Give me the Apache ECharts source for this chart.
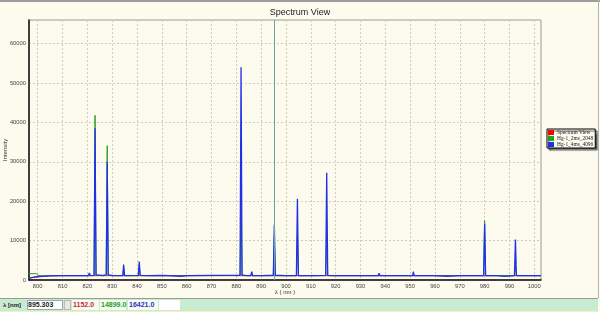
<!DOCTYPE html>
<html>
<head>
<meta charset="utf-8">
<script src="https://cdn.jsdelivr.net/npm/echarts@6/dist/echarts.min.js"></script>
<style>
  body { margin: 0; background: #fdfaee; }
  #wrap { position: relative; width: 600px; height: 312px; overflow: hidden; background: #fdfaee; }
  #chart { position: absolute; left: 0; top: 0; width: 600px; height: 298px; }
  .topline { position: absolute; left: 0; top: 0; width: 600px; height: 2px; background: #9c9c9c; }
  .rightline { position: absolute; left: 598px; top: 0; width: 1px; height: 298px; background: #b4b4b4; }
  #bar { position: absolute; left: 0; top: 298px; width: 598px; height: 12px; background: #c8ecd0;
         border-top: 1px solid #9a9a9a; border-bottom: 1px solid #f4f0b8;
         font-family: "Liberation Sans", Arial, sans-serif; font-size: 7px; font-weight: bold; }
  #bar div { position: absolute; top: 1px; height: 10px; line-height: 10px; }
  .box { background: #f4fcf4; padding-left: 1px; }
</style>
</head>
<body>
<div id="wrap">
  <div id="chart"></div>
  <div class="topline"></div>
  <div class="rightline"></div>
  <div id="bar">
    <div style="left:3px;color:#222;font-size:6px;">λ [nm]</div>
    <div id="wlBox" style="left:27px;width:34px;background:#fff;border:1px solid #9aa;height:8px;line-height:8px;color:#222;"></div>
    <div style="left:64px;width:5px;background:#e8e8e8;border:1px solid #bbb;height:8px;"></div>
    <div id="v0" class="box" style="left:72px;width:26px;color:#d02828;"></div>
    <div id="v1" class="box" style="left:100px;width:25px;color:#22a022;"></div>
    <div id="v2" class="box" style="left:128px;width:29px;color:#3030b8;"></div>
    <div style="left:159px;width:21px;background:#fff;"></div>
  </div>
</div>
<script>
// 图例 / 系列名称
const seriesNames = ["Spectrum View", "Hg-1_2ms_2048", "Hg-1_4ms_4096"];
const xTicks = [800, 810, 820, 830, 840, 850, 860, 870, 880, 890, 900, 910, 920, 930, 940, 950, 960, 970, 980, 990, 1000];
const cursorWl = 895.303;
const cursorVals = [1152.0, 14899.0, 16421.0];

// Spectrum View (red)
const redWl = [796.5, 805, 815, 822.8, 823.1, 823.4, 827.7, 828.0, 828.3, 834.4, 834.6, 834.8, 840.7, 840.9, 841.1,
  860, 881.7, 881.9, 882.1, 895.1, 895.3, 895.5, 904.4, 904.6, 904.8, 916.2, 916.4, 916.6, 940,
  979.8, 980.0, 980.2, 992.2, 992.4, 992.6, 1002.7];
const redVal = [500, 1100, 1100, 1100, 1400, 1100, 1100, 1400, 1100, 1100, 1300, 1100, 1100, 1300, 1100,
  1100, 1100, 1400, 1100, 1100, 1152, 1100, 1100, 1300, 1100, 1100, 1300, 1100, 1100,
  1100, 1300, 1100, 1100, 1300, 1100, 1100];

// Hg-1_2ms_2048 (green)
const greenWl = [796.5, 799.5, 800.5, 810, 820, 822.7, 823.1, 823.5, 827.6, 828.0, 828.4, 834.3, 834.6, 834.9,
  840.6, 840.9, 841.2, 860, 881.5, 881.9, 882.3, 894.9, 895.3, 895.7, 904.2, 904.6, 905.0,
  916.0, 916.4, 916.8, 940, 960, 979.6, 980.0, 980.4, 992.0, 992.4, 992.8, 1002.7];
const greenVal = [1600, 1600, 1050, 1100, 1100, 1150, 41800, 1200, 1200, 34100, 1200, 1100, 3000, 1100,
  1100, 3500, 1100, 1100, 1150, 21000, 1150, 1100, 11000, 1100, 1100, 11000, 1100,
  1100, 11700, 1100, 1100, 1100, 1100, 15100, 1100, 1100, 3600, 1100, 1100];

// Hg-1_4ms_4096 (blue)
const blueWl = [796.5, 800, 805, 810, 815, 820.4, 820.8, 821.2, 822.7, 823.1, 823.5, 826.3, 826.7, 827.1, 827.6, 828.0, 828.4,
  830, 834.3, 834.6, 835.0, 840.5, 840.9, 841.3, 845, 850, 858, 860, 870, 873.3, 873.7, 874.1,
  881.5, 881.9, 882.3, 884, 885.8, 886.2, 886.6, 890.6, 891.0, 891.4, 894.9, 895.3, 895.7, 900, 904.2, 904.6, 905.0,
  910, 916.0, 916.4, 916.8, 920, 930, 937.1, 937.5, 937.9, 945, 951.0, 951.3, 951.6, 960, 965, 970,
  979.6, 980.0, 980.4, 985, 988, 992.0, 992.4, 992.8, 1000, 1002.7];
const blueVal = [500, 900, 1050, 1100, 1100, 1100, 1800, 1100, 1200, 38500, 1300, 1100, 1600, 1100, 1300, 30000, 1300,
  1100, 1100, 3900, 1100, 1150, 4700, 1150, 1100, 1150, 950, 1100, 1150, 1150, 1500, 1100,
  1200, 54000, 1300, 1100, 1100, 2100, 1100, 1100, 1500, 1100, 1200, 14000, 1200, 1100, 1100, 20600, 1100,
  1100, 1150, 27200, 1150, 1100, 1100, 1100, 1700, 1100, 1100, 1100, 2100, 1100, 1100, 950, 1100,
  1100, 14200, 1100, 1100, 900, 1100, 10250, 1100, 1100, 1100];

const pairs = (xs, ys) => xs.map((x, i) => [x, ys[i]]);

document.getElementById("wlBox").textContent = cursorWl.toFixed(3);
cursorVals.forEach((v, i) => { document.getElementById("v" + i).textContent = v.toFixed(1); });

const chart = echarts.init(document.getElementById("chart"), null, { renderer: "canvas" });
const gridLine = { show: true, lineStyle: { color: "#cfcbbd", type: [2, 2], width: 1 } };
const lineSeries = (name, data, color, width, extra) => Object.assign({
  name, type: "line", data, showSymbol: false, symbol: "none",
  lineStyle: { color, width }, itemStyle: { color }, animation: false
}, extra || {});

chart.setOption({
  backgroundColor: "transparent",
  title: {
    text: "Spectrum View", left: "center", top: 3,
    textStyle: { fontFamily: "Liberation Sans", fontSize: 9, fontWeight: "normal", color: "#222" }
  },
  legend: {
    orient: "vertical", left: 547, top: 129, icon: "rect",
    itemWidth: 6, itemHeight: 5, itemGap: 1, padding: [1, 2, 1, 1],
    backgroundColor: "#fdfaee", borderColor: "#000", borderWidth: 1,
    shadowColor: "rgba(0,0,0,0.6)", shadowBlur: 1, shadowOffsetX: 2, shadowOffsetY: 2,
    textStyle: { fontFamily: "Liberation Serif", fontSize: 5.4, color: "#222", padding: [0, 0, 0, -2] },
    data: seriesNames
  },
  grid: {
    left: 29, right: 59, top: 20, bottom: 18,
    containLabel: false, outerBoundsMode: "none",
    show: true, borderColor: "#9a9a9a", borderWidth: 1
  },
  xAxis: {
    type: "value", min: 796.5, max: 1002.7,
    name: "λ ( nm )", nameLocation: "middle", nameGap: 9, nameMoveOverlap: false,
    nameTextStyle: { fontFamily: "Liberation Sans", fontSize: 6, color: "#333" },
    axisLine: { show: true, onZero: false, lineStyle: { color: "#111", width: 1.5 } },
    axisTick: { show: false, customValues: xTicks },
    axisLabel: { customValues: xTicks, formatter: v => String(v), fontFamily: "Liberation Sans", fontSize: 5.8, color: "#444", margin: 3 },
    splitLine: gridLine
  },
  yAxis: {
    type: "value", min: 0, max: 66000, interval: 10000,
    name: "Intensity", nameLocation: "middle", nameGap: 21, nameMoveOverlap: false,
    nameTextStyle: { fontFamily: "Liberation Sans", fontSize: 6, color: "#333" },
    axisLine: { show: true, lineStyle: { color: "#111", width: 1.5 } },
    axisTick: { show: false },
    axisLabel: { showMaxLabel: false, formatter: v => String(v), fontFamily: "Liberation Sans", fontSize: 5.8, color: "#444", margin: 3 },
    splitLine: gridLine
  },
  series: [
    lineSeries(seriesNames[0], pairs(redWl, redVal), "#ff0000", 1),
    lineSeries(seriesNames[1], pairs(greenWl, greenVal), "#22a022", 1),
    lineSeries(seriesNames[2], pairs(blueWl, blueVal), "#2030e8", 1.3, {
      markLine: {
        silent: true, symbol: "none", animation: false,
        label: { show: false },
        lineStyle: { color: "#62a8a0", type: "solid", width: 1, opacity: 1 },
        data: [{ xAxis: cursorWl }]
      }
    })
  ]
});
</script>
</body>
</html>
